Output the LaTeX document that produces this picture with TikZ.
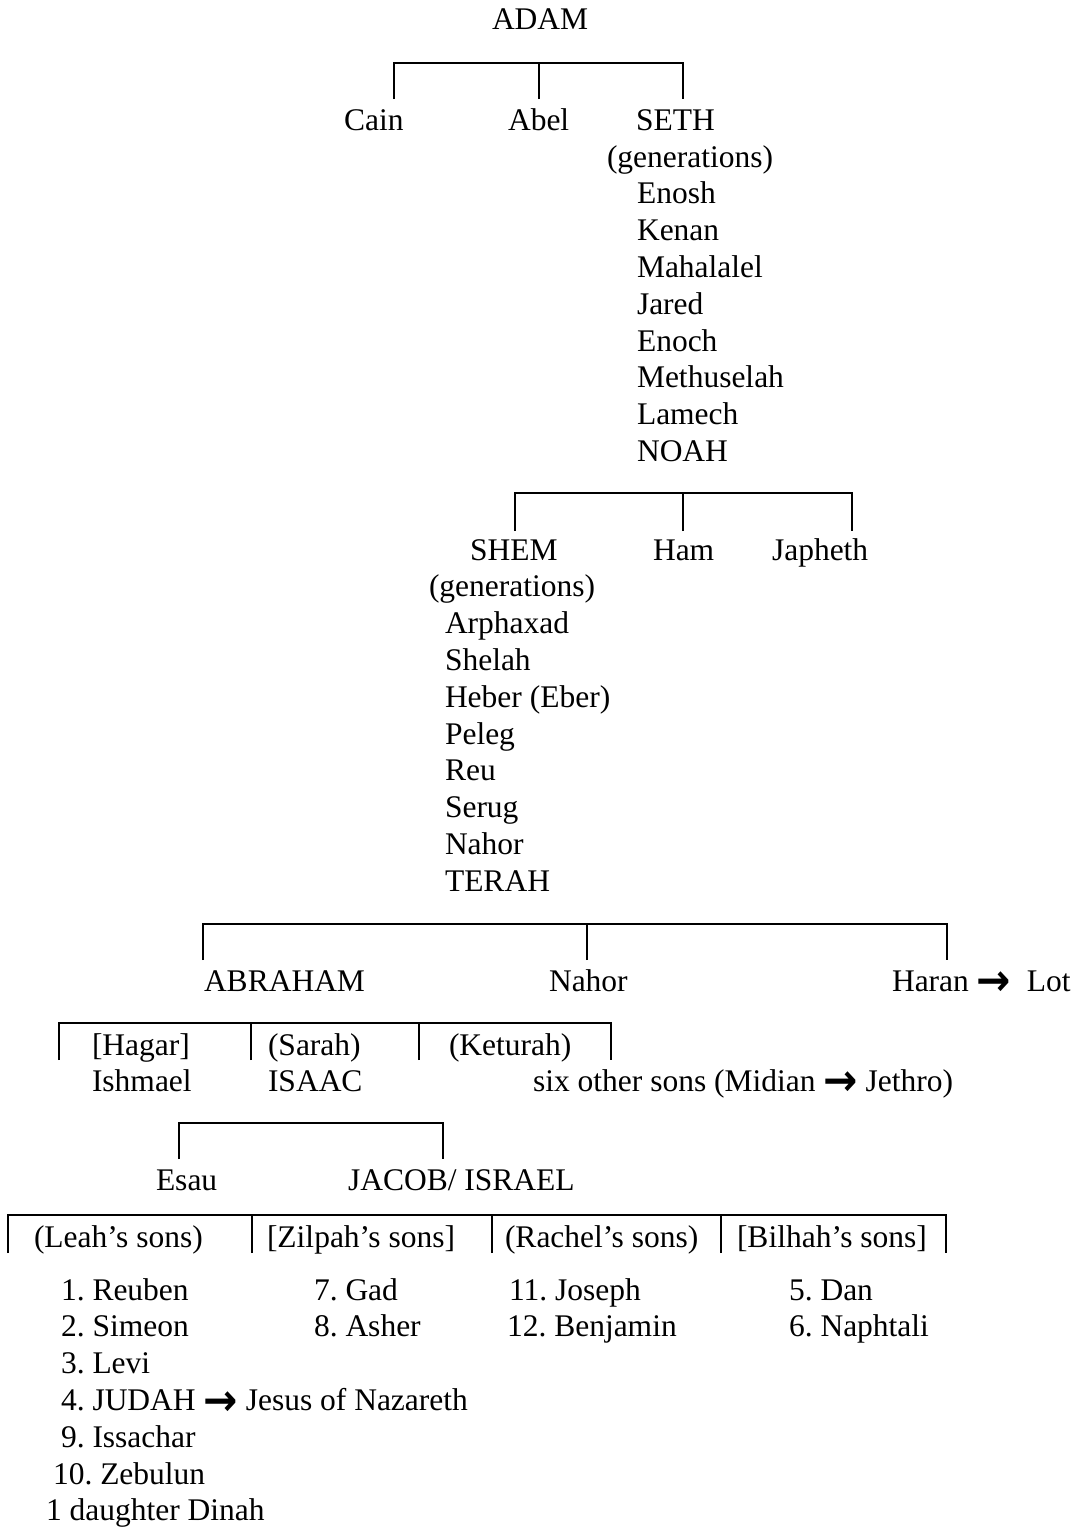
\documentclass[tikz,border=0pt]{standalone}
\usepackage{fontspec}
\usepackage{graphicx}
\setmainfont{Liberation Serif}
\newfontfamily\arrowfont{DejaVu Sans}
\newcommand\toarr{\raisebox{-0.15em}{\scalebox{1.3}[1.4]{\arrowfont\bfseries →}}}
\frenchspacing

\begin{document}
\begin{tikzpicture}[x=1pt, y=-1pt, line width=2pt,
    person/.style={anchor=base west, inner sep=0pt, font=\fontsize{31.5}{37}\selectfont}]
    \useasboundingbox (0,0) rectangle (1074,1528);

    % Adam
    \node[person] (adam) at (491,30) {ADAM};
    \coordinate (adambar) at (539,63);
    \coordinate (cainft) at (394,99); \coordinate (abelft) at (539,99); \coordinate (sethft) at (683,99);
    \draw (cainft) |- (adambar) -| (sethft); \draw (abelft) -- (abelft |- adambar);
    \node[person] (cain) at (343,130) {Cain}; \node[person] (abel) at (507,130) {Abel};
    \node[person] (seth) at (635,130) {SETH};
    \node[person] (sethgen) at (606,167) {(generations)};
    \foreach \s/\n [count=\i] in {Enosh/enosh,Kenan/kenan,Mahalalel/mahalalel,Jared/jared,Enoch/enoch,Methuselah/methuselah,Lamech/lamech,NOAH/noah}
        \node[person] (\n) at (636,{167+36.8*\i}) {\s};

    % Noah
    \coordinate (noahbar) at (683,493);
    \coordinate (shemft) at (515,531); \coordinate (hamft) at (683,531); \coordinate (japhethft) at (852,531);
    \draw (shemft) |- (noahbar) -| (japhethft); \draw (hamft) -- (hamft |- noahbar);
    \node[person] (shem) at (469,560) {SHEM}; \node[person] (ham) at (652,560) {Ham};
    \node[person] (japheth) at (771,560) {Japheth};
    \node[person] (shemgen) at (428,596.8) {(generations)};
    \foreach \s/\n [count=\i] in {Arphaxad/arphaxad,Shelah/shelah,Heber (Eber)/heber,Peleg/peleg,Reu/reu,Serug/serug,Nahor/nahorA,TERAH/terah}
        \node[person] (\n) at (444,{596.8+36.8*\i}) {\s};

    % Terah
    \coordinate (terahbar) at (587,924);
    \coordinate (abrahamft) at (203,960); \coordinate (nahorft) at (587,960); \coordinate (haranft) at (947,960);
    \draw (abrahamft) |- (terahbar) -| (haranft); \draw (nahorft) -- (nahorft |- terahbar);
    \node[person] (abraham) at (203,991) {ABRAHAM}; \node[person] (nahorB) at (548,991) {Nahor};
    \node[person] (haran) at (891,991) {Haran \toarr\ \ Lot};

    % Abraham
    \coordinate (abrahambar) at (59,1023);
    \coordinate (hagarft) at (59,1060); \coordinate (sarahft) at (251,1060);
    \coordinate (keturahft) at (419,1060); \coordinate (endft) at (611,1060);
    \draw (hagarft) |- (abrahambar) -| (endft);
    \foreach \f in {sarahft,keturahft} \draw (\f) -- (\f |- abrahambar);
    \node[person] (hagar) at (91,1055) {[Hagar]}; \node[person] (sarah) at (267,1055) {(Sarah)};
    \node[person] (keturah) at (448,1055) {(Keturah)};
    \node[person] (ishmael) at (91,1091) {Ishmael}; \node[person] (isaac) at (267,1091) {ISAAC};
    \node[person] (sixsons) at (532,1091) {six other sons (Midian \toarr{} Jethro)};

    % Isaac
    \coordinate (isaacbar) at (311,1123);
    \coordinate (esauft) at (179,1159); \coordinate (jacobft) at (443,1159);
    \draw (esauft) |- (isaacbar) -| (jacobft);
    \node[person] (esau) at (155,1190) {Esau}; \node[person] (jacob) at (347,1190) {JACOB/ ISRAEL};

    % Jacob and his wives
    \coordinate (jacobbar) at (477,1215);
    \coordinate (leahft) at (8,1253); \coordinate (zilpahft) at (252,1253); \coordinate (rachelft) at (492,1253);
    \coordinate (bilhahft) at (721,1253); \coordinate (lastft) at (946,1253);
    \draw (leahft) |- (jacobbar) -| (lastft);
    \foreach \f in {zilpahft,rachelft,bilhahft} \draw (\f) -- (\f |- jacobbar);
    \node[person] (leah) at (33,1247) {(Leah’s sons)}; \node[person] (zilpah) at (266,1247) {[Zilpah’s sons]};
    \node[person] (rachel) at (504,1247) {(Rachel’s sons)}; \node[person] (bilhah) at (736,1247) {[Bilhah’s sons]};

    % the twelve sons
    \foreach \s [count=\i] in {1. Reuben,2. Simeon,3. Levi,4. JUDAH \toarr{} Jesus of Nazareth,9. Issachar}
        \node[person] (leah\i) at (60,{1300+36.8*(\i-1)}) {\s};
    \node[person] (leah6) at (52,1484) {10. Zebulun}; \node[person] (dinah) at (45,1520.8) {1 daughter Dinah};
    \node[person] (gad) at (313,1300) {7. Gad}; \node[person] (asher) at (313,1336.8) {8. Asher};
    \node[person] (joseph) at (508,1300) {11. Joseph}; \node[person] (benjamin) at (506,1336.8) {12. Benjamin};
    \node[person] (dan) at (788,1300) {5. Dan}; \node[person] (naphtali) at (788,1336.8) {6. Naphtali};
\end{tikzpicture}
\end{document}
